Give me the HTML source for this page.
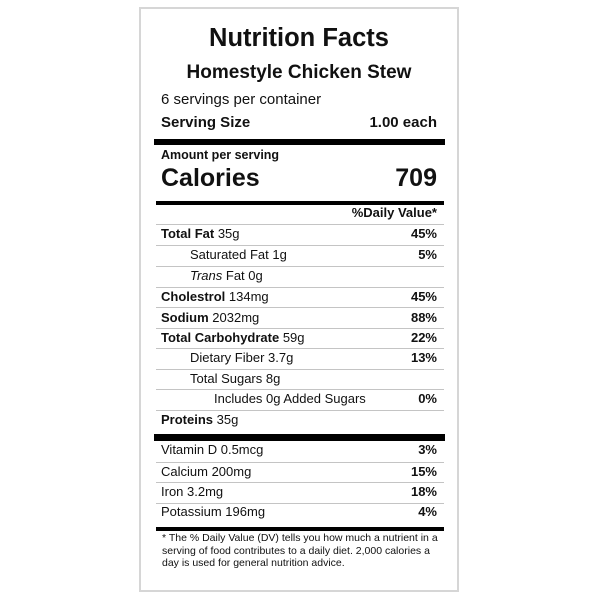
<!DOCTYPE html>
<html>
<head>
<meta charset="utf-8">
<style>
html,body{margin:0;padding:0;background:#fff;}
body{width:600px;height:600px;position:relative;overflow:hidden;font-family:"Liberation Sans",Arial,sans-serif;color:#111;}
.box{position:absolute;left:139px;top:7px;width:320px;height:585px;box-sizing:border-box;border:2px solid #d6d6d6;}
.bar{position:absolute;background:#000;}
.ln{position:absolute;left:156px;width:288px;height:1px;background:#c4c4c4;}
.t{position:absolute;height:20px;line-height:20px;white-space:nowrap;font-size:13px;}
.l{left:161px;}
.l2{left:190px;}
.l3{left:214px;}
.r{right:163px;text-align:right;font-weight:bold;}
b{font-weight:bold;}
.c{left:140px;width:318px;text-align:center;font-weight:bold;}
.fn{position:absolute;left:162px;font-size:10.5px;line-height:12.6px;top:532px;width:290px;}
</style>
</head>
<body>
<div class="box"></div>

<div class="t c" style="top:23px;height:30px;line-height:30px;font-size:25.5px;">Nutrition Facts</div>
<div class="t c" style="top:61px;height:24px;line-height:24px;font-size:19px;">Homestyle Chicken Stew</div>
<div class="t l" style="top:90px;font-size:15px;">6 servings per container</div>
<div class="t l" style="top:113px;font-size:15px;font-weight:bold;">Serving Size</div>
<div class="t r" style="top:113px;font-size:15px;">1.00 each</div>

<div class="bar" style="left:154px;top:139px;width:291px;height:6px;"></div>

<div class="t l" style="top:145px;font-size:12.5px;font-weight:bold;">Amount per serving</div>
<div class="t l" style="top:163px;height:30px;line-height:30px;font-size:25px;font-weight:bold;">Calories</div>
<div class="t r" style="top:163px;height:30px;line-height:30px;font-size:25px;">709</div>

<div class="bar" style="left:156px;top:201px;width:288px;height:4px;"></div>

<div class="t r" style="top:203px;">%Daily Value*</div>
<div class="ln" style="top:224px;"></div>

<div class="t l" style="top:224px;"><b>Total Fat</b> 35g</div>
<div class="t r" style="top:224px;">45%</div>
<div class="ln" style="top:245px;"></div>

<div class="t l2" style="top:245px;">Saturated Fat 1g</div>
<div class="t r" style="top:245px;">5%</div>
<div class="ln" style="top:266px;"></div>

<div class="t l2" style="top:266px;"><i>Trans</i> Fat 0g</div>
<div class="ln" style="top:287px;"></div>

<div class="t l" style="top:287px;"><b>Cholestrol</b> 134mg</div>
<div class="t r" style="top:287px;">45%</div>
<div class="ln" style="top:307px;"></div>

<div class="t l" style="top:308px;"><b>Sodium</b> 2032mg</div>
<div class="t r" style="top:308px;">88%</div>
<div class="ln" style="top:328px;"></div>

<div class="t l" style="top:328px;"><b>Total Carbohydrate</b> 59g</div>
<div class="t r" style="top:328px;">22%</div>
<div class="ln" style="top:348px;"></div>

<div class="t l2" style="top:348px;">Dietary Fiber 3.7g</div>
<div class="t r" style="top:348px;">13%</div>
<div class="ln" style="top:369px;"></div>

<div class="t l2" style="top:369px;">Total Sugars 8g</div>
<div class="ln" style="top:389px;"></div>

<div class="t l3" style="top:389px;">Includes 0g Added Sugars</div>
<div class="t r" style="top:389px;">0%</div>
<div class="ln" style="top:410px;"></div>

<div class="t l" style="top:410px;"><b>Proteins</b> 35g</div>

<div class="bar" style="left:154px;top:434px;width:291px;height:7px;"></div>

<div class="t l" style="top:440px;">Vitamin D 0.5mcg</div>
<div class="t r" style="top:440px;">3%</div>
<div class="ln" style="top:462px;"></div>

<div class="t l" style="top:462px;">Calcium 200mg</div>
<div class="t r" style="top:462px;">15%</div>
<div class="ln" style="top:482px;"></div>

<div class="t l" style="top:482px;">Iron 3.2mg</div>
<div class="t r" style="top:482px;">18%</div>
<div class="ln" style="top:503px;"></div>

<div class="t l" style="top:502px;">Potassium 196mg</div>
<div class="t r" style="top:502px;">4%</div>

<div class="bar" style="left:156px;top:527px;width:288px;height:4px;"></div>

<div class="fn">* The % Daily Value (DV) tells you how much a nutrient in a<br>serving of food contributes to a daily diet. 2,000 calories a<br>day is used for general nutrition advice.</div>
</body>
</html>
